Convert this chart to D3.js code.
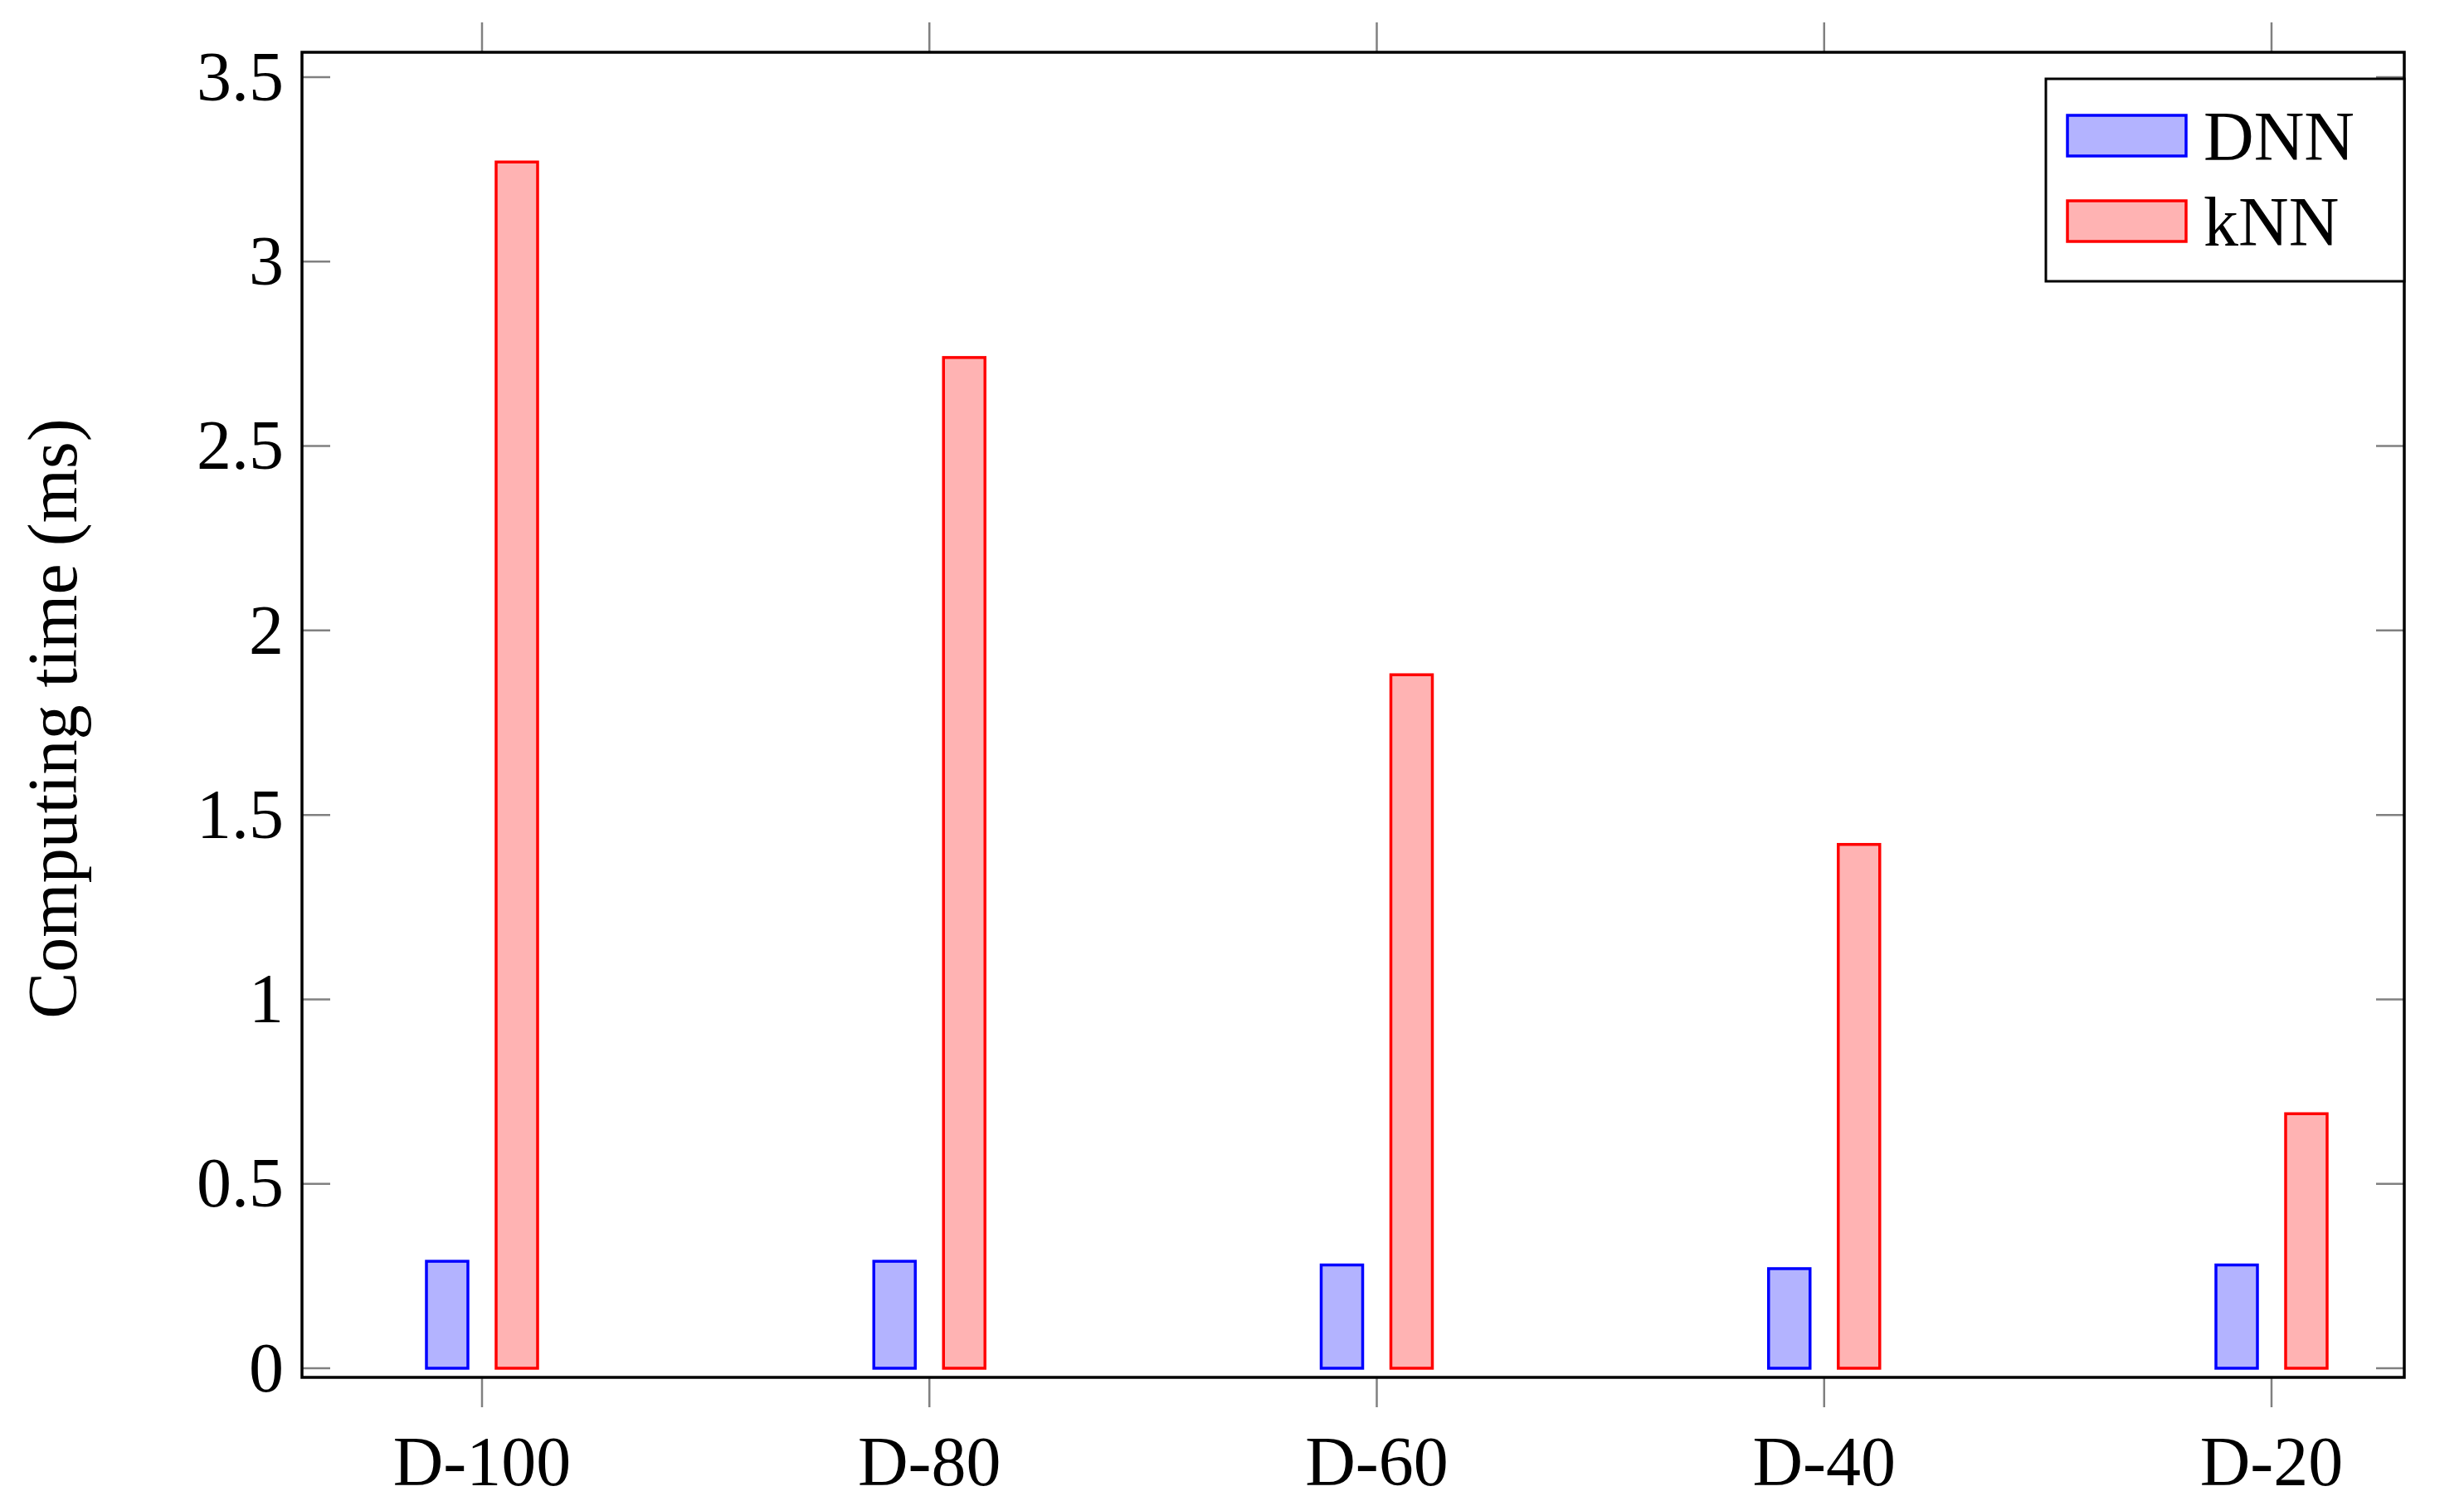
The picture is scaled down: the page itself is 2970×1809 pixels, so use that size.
<!DOCTYPE html><html><head><meta charset="utf-8">
<script src="https://cdn.jsdelivr.net/npm/d3@7"></script>
<style>body{margin:0;background:#fff}</style></head><body>
<script>
const categories=["D-100","D-80","D-60","D-40","D-20"];
const dnn=[0.29,0.29,0.28,0.27,0.28];
const knn=[3.27,2.74,1.88,1.42,0.69];
const yTicks=[0,0.5,1,1.5,2,2.5,3,3.5];
const W=2970,H=1809,L=364,R=2898,T=63,B=1660;
const font="'Liberation Serif','Times New Roman',serif";
const svg=d3.select("body").append("svg").attr("width",W).attr("height",H);
const x=d3.scalePoint().domain(categories).range([581,2738]);
const y=d3.scaleLinear().domain([0,3.5]).range([1649,93]);
const g=svg.append("g");
yTicks.forEach(v=>{
  g.append("line").attr("x1",L).attr("x2",L+34).attr("y1",y(v)).attr("y2",y(v)).attr("stroke","#808080").attr("stroke-width",2.5);
  g.append("line").attr("x1",R-34).attr("x2",R).attr("y1",y(v)).attr("y2",y(v)).attr("stroke","#808080").attr("stroke-width",2.5);
  g.append("text").attr("x",L-22).attr("y",y(v)).attr("dy","0.33em").attr("text-anchor","end").attr("font-family",font).attr("font-size",84).text(v);
});
categories.forEach(c=>{
  g.append("line").attr("x1",x(c)).attr("x2",x(c)).attr("y1",B).attr("y2",B+36).attr("stroke","#808080").attr("stroke-width",2.5);
  g.append("line").attr("x1",x(c)).attr("x2",x(c)).attr("y1",T).attr("y2",T-36).attr("stroke","#808080").attr("stroke-width",2.5);
  g.append("text").attr("x",x(c)).attr("y",1790).attr("text-anchor","middle").attr("font-family",font).attr("font-size",84).text(c);
});
const bw=50,off=42;
g.selectAll(".d").data(dnn).join("rect").attr("x",(d,i)=>x(categories[i])-off-bw/2).attr("y",d=>y(d)).attr("width",bw).attr("height",d=>y(0)-y(d)).attr("fill","#b3b3ff").attr("stroke","#0000ff").attr("stroke-width",3.5);
g.selectAll(".k").data(knn).join("rect").attr("x",(d,i)=>x(categories[i])+off-bw/2).attr("y",d=>y(d)).attr("width",bw).attr("height",d=>y(0)-y(d)).attr("fill","#ffb3b3").attr("stroke","#ff0000").attr("stroke-width",3.5);
g.append("rect").attr("x",L).attr("y",T).attr("width",R-L).attr("height",B-T).attr("fill","none").attr("stroke","#000").attr("stroke-width",3.5);
g.append("rect").attr("x",2466).attr("y",95).attr("width",432).attr("height",244).attr("fill","#fff").attr("stroke","#000").attr("stroke-width",3);
[["DNN","#b3b3ff","#0000ff",139],["kNN","#ffb3b3","#ff0000",242]].forEach(([t,f,s,yy])=>{
  g.append("rect").attr("x",2492).attr("y",yy).attr("width",143).attr("height",49).attr("fill",f).attr("stroke",s).attr("stroke-width",3.5);
  g.append("text").attr("x",2656).attr("y",yy+25).attr("dy","0.35em").attr("font-family",font).attr("font-size",84).text(t);
});
g.append("text").attr("transform","translate(92,866) rotate(-90)").attr("text-anchor","middle").attr("font-family",font).attr("font-size",84).text("Computing time (ms)");
</script></body></html>
